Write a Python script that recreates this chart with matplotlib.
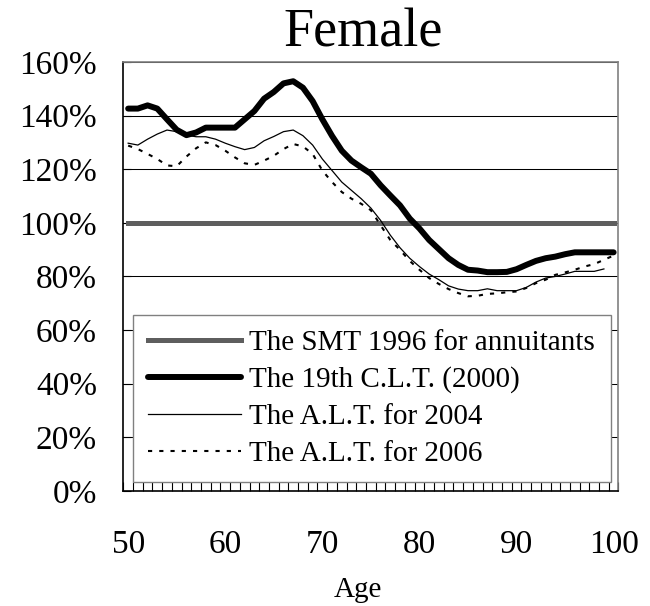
import numpy as np
import matplotlib.pyplot as plt
from matplotlib.ticker import FuncFormatter, MultipleLocator

plt.rcParams['font.family'] = ['Liberation Serif', 'DejaVu Serif']

ages = np.arange(50, 101)

smt1996 = [100.0] * 51

clt2000 = [142.6, 142.6, 143.8, 142.6, 138.6, 134.7, 132.7, 133.7, 135.5, 135.5,
           135.5, 135.5, 138.6, 141.7, 146.3, 148.8, 152.0, 152.8, 150.4, 145.4,
           138.6, 132.4, 126.9, 123.2, 120.7, 118.3, 114.0, 110.2, 106.5, 101.6,
           97.9, 93.6, 90.2, 86.8, 84.3, 82.5, 82.2, 81.6, 81.6, 81.7,
           82.7, 84.3, 85.8, 86.8, 87.4, 88.3, 89.0, 89.0, 89.0, 89.0, 89.0]

alt2004 = [129.7, 129.0, 131.2, 133.1, 134.6, 134.0, 132.7, 132.1, 132.1, 131.2,
           129.7, 128.4, 127.3, 128.1, 130.6, 132.2, 134.0, 134.6, 132.5, 129.0,
           123.8, 119.5, 115.2, 112.1, 109.0, 105.5, 100.9, 95.4, 90.7, 86.8,
           83.7, 80.9, 78.8, 76.5, 75.3, 74.7, 74.7, 75.4, 74.7, 74.7,
           74.7, 75.9, 77.9, 79.4, 80.0, 80.9, 81.9, 81.9, 81.9, 82.8]

alt2006 = [128.8, 127.5, 125.7, 123.8, 121.4, 121.1, 124.7, 127.8, 130.0, 129.0,
           126.9, 124.4, 122.2, 121.6, 123.2, 125.0, 127.5, 129.4, 128.5, 125.7,
           119.5, 115.2, 111.5, 109.0, 107.1, 104.7, 99.1, 93.6, 89.9, 85.8,
           82.5, 79.4, 77.2, 75.3, 73.8, 72.6, 72.8, 73.5, 73.7, 74.1,
           74.4, 75.7, 77.5, 78.8, 80.6, 81.5, 82.5, 83.7, 84.6, 86.2, 87.8]

labels = ['The SMT 1996 for annuitants', 'The 19th C.L.T. (2000)',
          'The A.L.T. for 2004', 'The A.L.T. for 2006']

fig = plt.figure(figsize=(6.5, 6.06), dpi=100)
ax = fig.add_axes([0.1897, 0.1898, 0.7618, 0.708])

idx = np.arange(len(ages))
ax.plot(idx, smt1996, color='#5e5e5e', lw=3.6, label=labels[0], zorder=3)
ax.plot(idx, clt2000, color='black', lw=4.3, solid_capstyle='round',
        solid_joinstyle='round', label=labels[1], zorder=4)
ax.plot(idx[:len(alt2004)], alt2004, color='black', lw=0.9, label=labels[2], zorder=4)
ax.plot(idx, alt2006, color='black', lw=1.5, dashes=(2.0, 3.4), label=labels[3], zorder=4)

ax.set_xlim(-0.5, 50.5)
ax.set_ylim(0, 160)
ax.yaxis.set_major_locator(MultipleLocator(20))
ax.yaxis.set_major_formatter(FuncFormatter(lambda v, p: '%d%%' % v))
ax.grid(axis='y', color='black', lw=0.75, zorder=1)

ax.set_xticks(idx[::10])
ax.set_xticklabels([str(a) for a in ages[::10]])
ax.set_xticks(np.arange(-0.5, 51, 1), minor=True)
ax.tick_params(axis='x', which='major', length=0, pad=28, labelsize=24)
ax.tick_params(axis='x', which='minor', direction='in', length=6.5, width=0.8)
ax.tick_params(axis='y', direction='in', length=6, width=0.8, pad=19, labelsize=24)

for s in ['top', 'right']:
    ax.spines[s].set_color('#808080')
    ax.spines[s].set_linewidth(1.2)
for s in ['left', 'bottom']:
    ax.spines[s].set_color('black')
    ax.spines[s].set_linewidth(1.2)

leg = ax.legend(loc='lower left', bbox_to_anchor=(0.0202, 0.0217, 0.964, 0.385),
                mode='expand', borderaxespad=0, fontsize=21, handlelength=3.2,
                handletextpad=0.25, labelspacing=0.36, borderpad=0.5,
                fancybox=False, edgecolor='#808080', framealpha=1)
leg.get_frame().set_linewidth(1.0)
leg.set_zorder(5)

fig.text(363 / 650, 0.923, 'Female', fontsize=39, ha='center', va='baseline')
fig.text(358 / 650, 0.0153, 'Age', fontsize=21, ha='center', va='baseline')

fig.savefig('out.png', dpi=100)
